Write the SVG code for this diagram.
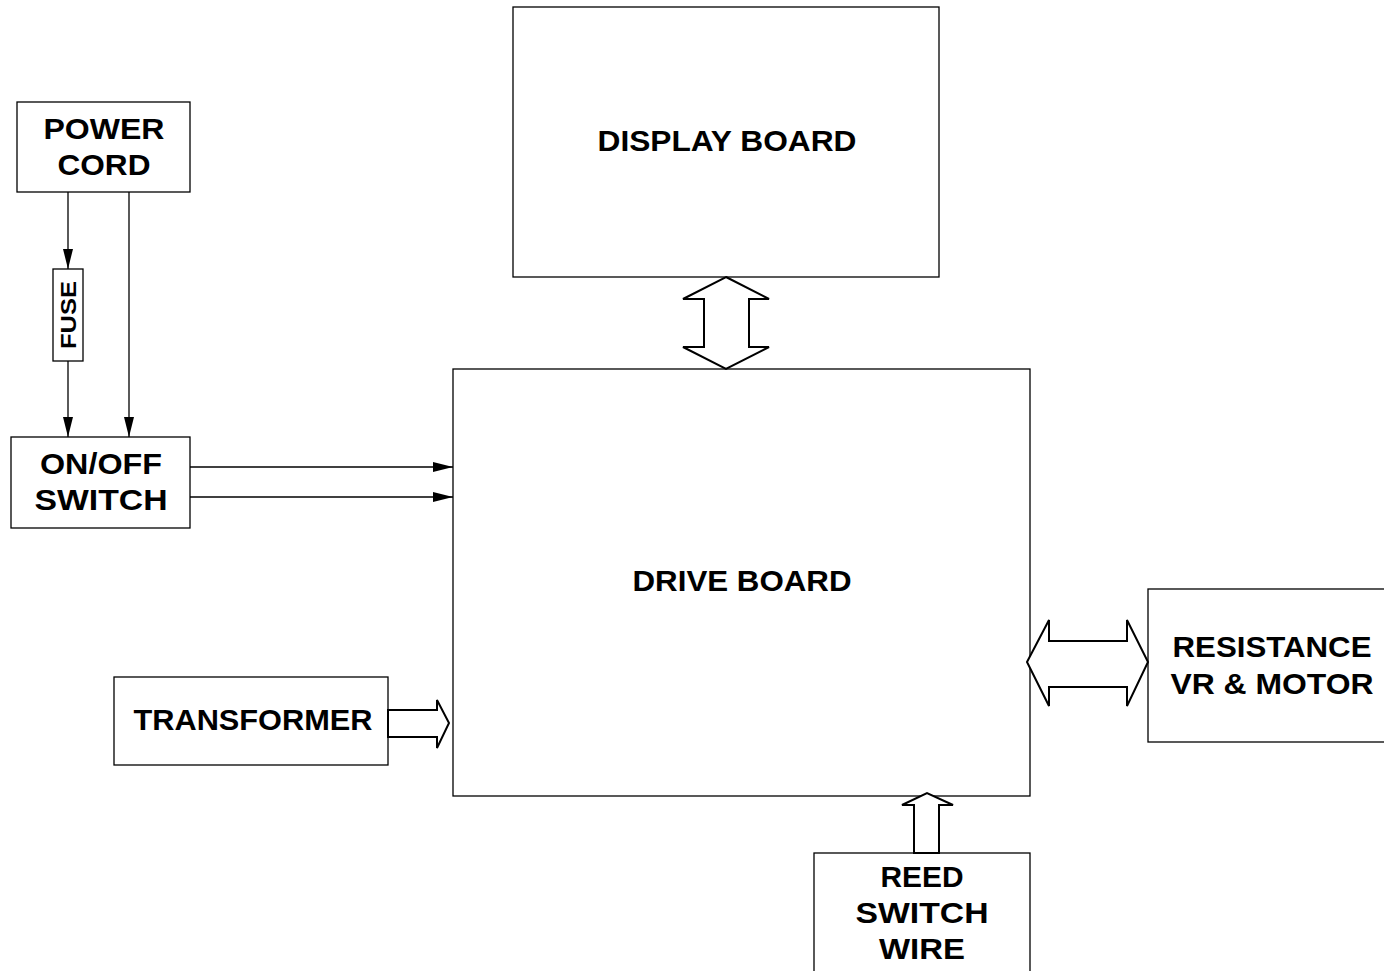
<svg xmlns="http://www.w3.org/2000/svg" width="1384" height="971" viewBox="0 0 1384 971">
<style>
.box{fill:#fff;stroke:#000;stroke-width:1.3}
.t{font-family:"Liberation Sans",Arial,sans-serif;font-weight:bold;font-size:30px;fill:#000;text-anchor:middle}
.ln{stroke:#000;stroke-width:1.3;fill:none}
.big{fill:#fff;stroke:#000;stroke-width:2;stroke-linejoin:miter}
</style>
<defs>
<marker id="ah" viewBox="0 0 20 10" refX="20" refY="5" markerWidth="20" markerHeight="10" markerUnits="userSpaceOnUse" orient="auto">
<path d="M0,0 L20,5 L0,10 Z" fill="#000"/>
</marker>
</defs>
<g id="power-cord"><rect class="box" x="17" y="102" width="173" height="90"/><text class="t" x="104" y="139" textLength="121" lengthAdjust="spacingAndGlyphs">POWER</text><text class="t" x="104" y="175" textLength="93" lengthAdjust="spacingAndGlyphs">CORD</text></g>
<g id="fuse"><rect class="box" x="53" y="269" width="30" height="92"/><text class="t" style="font-size:22px" transform="translate(76,315) rotate(-90)" textLength="68" lengthAdjust="spacingAndGlyphs">FUSE</text></g>
<g id="onoff-switch"><rect class="box" x="11" y="437" width="179" height="91"/><text class="t" x="101" y="474" textLength="122" lengthAdjust="spacingAndGlyphs">ON/OFF</text><text class="t" x="101" y="510" textLength="133" lengthAdjust="spacingAndGlyphs">SWITCH</text></g>
<g id="display-board"><rect class="box" x="513" y="7" width="426" height="270"/><text class="t" x="727" y="151" textLength="259" lengthAdjust="spacingAndGlyphs">DISPLAY BOARD</text></g>
<g id="drive-board"><rect class="box" x="453" y="369" width="577" height="427"/><text class="t" x="742" y="591" textLength="219" lengthAdjust="spacingAndGlyphs">DRIVE BOARD</text></g>
<g id="transformer"><rect class="box" x="114" y="677" width="274" height="88"/><text class="t" x="253" y="730" textLength="239" lengthAdjust="spacingAndGlyphs">TRANSFORMER</text></g>
<g id="resistance"><rect class="box" x="1148" y="589" width="245" height="153"/><text class="t" x="1272" y="657" textLength="199" lengthAdjust="spacingAndGlyphs">RESISTANCE</text><text class="t" x="1272" y="694" textLength="203" lengthAdjust="spacingAndGlyphs">VR &amp; MOTOR</text></g>
<g id="reed-switch"><rect class="box" x="814" y="853" width="216" height="130"/><text class="t" x="922" y="887" textLength="83" lengthAdjust="spacingAndGlyphs">REED</text><text class="t" x="922" y="923" textLength="133" lengthAdjust="spacingAndGlyphs">SWITCH</text><text class="t" x="922" y="959" textLength="86" lengthAdjust="spacingAndGlyphs">WIRE</text></g>
<g id="connectors">
<line class="ln" x1="68" y1="192" x2="68" y2="269" marker-end="url(#ah)"/>
<line class="ln" x1="68" y1="361" x2="68" y2="437" marker-end="url(#ah)"/>
<line class="ln" x1="129" y1="192" x2="129" y2="437" marker-end="url(#ah)"/>
<line class="ln" x1="190" y1="467" x2="453" y2="467" marker-end="url(#ah)"/>
<line class="ln" x1="190" y1="497" x2="453" y2="497" marker-end="url(#ah)"/>
<path class="big" d="M726,277 L769,299 L749,299 L749,347 L769,347 L726,369 L683,347 L704,347 L704,299 L683,299 Z"/>
<path class="big" d="M1027,662 L1049,620 L1049,641 L1127,641 L1127,620 L1148,662 L1127,706 L1127,687 L1049,687 L1049,706 Z"/>
<path class="big" d="M388,710 L437,710 L437,700 L449,723 L437,748 L437,737 L388,737 Z"/>
<path class="big" d="M914,853 L914,805 L902,805 L927,793 L953,805 L939,805 L939,853 Z"/>
</g>
</svg>
